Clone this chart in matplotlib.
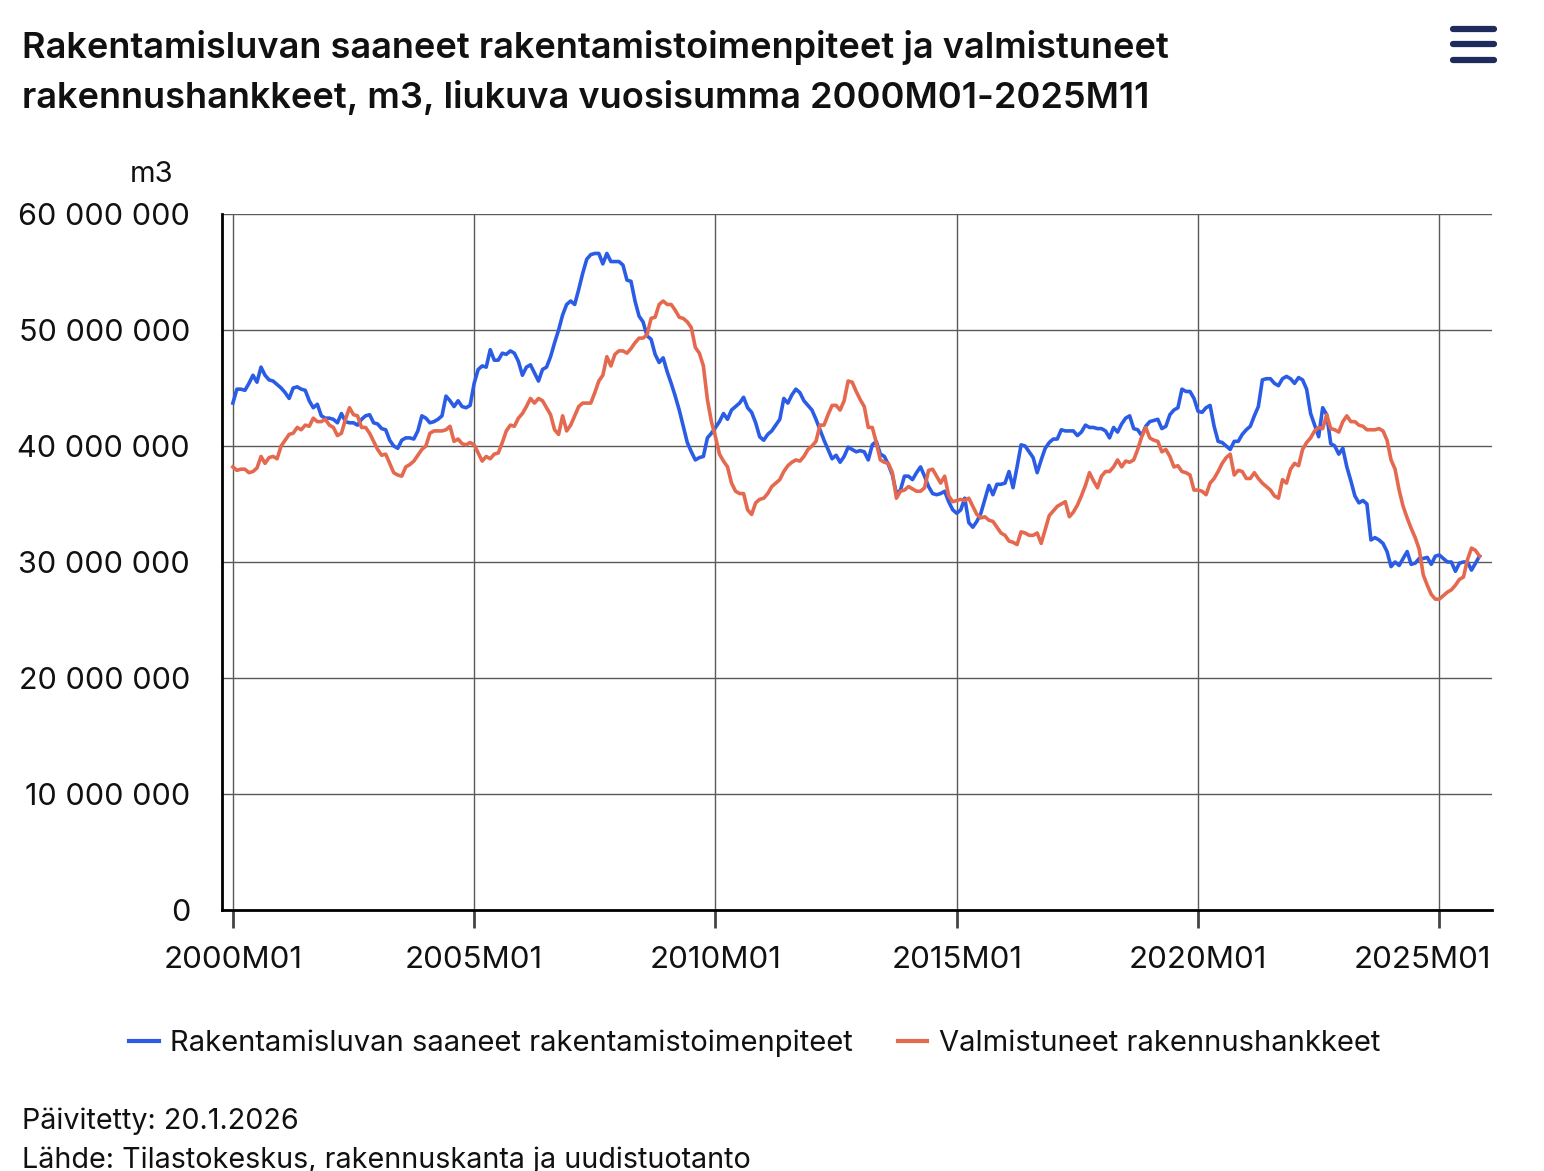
import numpy as np
import pandas as pd
import matplotlib
matplotlib.use("Agg")
import matplotlib.pyplot as plt
import matplotlib.transforms as mtransforms
from matplotlib.lines import Line2D
from matplotlib.ticker import FuncFormatter

plt.rcParams['font.family'] = ['Inter', 'DejaVu Sans']

# rolling 12-month sums, million m3, 2000M01-2025M11
luvat = [
    43.7, 44.9, 44.9, 44.8, 45.4, 46.1, 45.5, 46.8, 46.1, 45.7, 45.6, 45.3,  # 2000
    45.0, 44.6, 44.1, 45.0, 45.1, 44.9, 44.8, 43.9, 43.3, 43.6, 42.6, 42.4,  # 2001
    42.4, 42.3, 42.0, 42.8, 42.1, 42.0, 42.0, 41.8, 42.3, 42.6, 42.7, 42.0,  # 2002
    41.9, 41.5, 41.4, 40.5, 40.0, 39.8, 40.5, 40.7, 40.7, 40.6, 41.3, 42.6,  # 2003
    42.4, 42.0, 42.1, 42.3, 42.6, 44.3, 43.9, 43.4, 43.9, 43.4, 43.3, 43.5,  # 2004
    45.4, 46.6, 46.9, 46.8, 48.3, 47.4, 47.4, 48.0, 47.9, 48.2, 48.0, 47.3,  # 2005
    46.1, 46.8, 47.0, 46.3, 45.6, 46.6, 46.8, 47.7, 48.9, 50.0, 51.3, 52.2,  # 2006
    52.5, 52.2, 53.5, 54.9, 56.1, 56.5, 56.6, 56.6, 55.7, 56.6, 55.9, 55.9,  # 2007
    55.9, 55.6, 54.3, 54.2, 52.5, 51.2, 50.7, 49.5, 49.2, 47.9, 47.2, 47.6,  # 2008
    46.4, 45.4, 44.3, 43.1, 41.7, 40.3, 39.5, 38.8, 39.0, 39.1, 40.7, 41.1,  # 2009
    41.6, 42.1, 42.8, 42.3, 43.1, 43.4, 43.7, 44.2, 43.3, 42.9, 42.0, 40.8,  # 2010
    40.5, 41.0, 41.3, 41.8, 42.3, 44.1, 43.7, 44.4, 44.9, 44.6, 43.9, 43.5,  # 2011
    43.1, 42.3, 41.4, 40.5, 39.7, 38.9, 39.2, 38.6, 39.1, 39.9, 39.7, 39.5,  # 2012
    39.6, 39.5, 38.8, 40.1, 40.4, 39.3, 39.1, 38.4, 37.5, 35.9, 36.2, 37.4,  # 2013
    37.4, 37.1, 37.7, 38.2, 37.4, 36.5, 35.9, 35.8, 35.9, 36.1, 35.2, 34.5,  # 2014
    34.2, 34.5, 35.5, 33.4, 33.0, 33.5, 34.2, 35.4, 36.6, 35.8, 36.7, 36.7,  # 2015
    36.8, 37.8, 36.4, 38.2, 40.1, 40.0, 39.5, 39.0, 37.7, 38.8, 39.8, 40.3,  # 2016
    40.6, 40.6, 41.4, 41.3, 41.3, 41.3, 40.9, 41.2, 41.8, 41.6, 41.6, 41.5,  # 2017
    41.5, 41.3, 40.7, 41.6, 41.2, 41.9, 42.4, 42.6, 41.5, 41.4, 40.9, 41.7,  # 2018
    42.1, 42.2, 42.3, 41.5, 41.7, 42.7, 43.1, 43.3, 44.9, 44.7, 44.7, 44.1,  # 2019
    43.0, 42.9, 43.3, 43.5, 41.7, 40.4, 40.3, 40.0, 39.7, 40.4, 40.4, 41.0,  # 2020
    41.4, 41.7, 42.6, 43.4, 45.7, 45.8, 45.8, 45.4, 45.2, 45.8, 46.0, 45.8,  # 2021
    45.4, 45.9, 45.7, 44.9, 42.8, 41.8, 40.8, 43.3, 42.7, 40.2, 40.0, 39.3,  # 2022
    39.8, 38.2, 37.0, 35.7, 35.1, 35.3, 35.0, 31.9, 32.1, 31.9, 31.6, 30.9,  # 2023
    29.6, 30.0, 29.7, 30.3, 30.9, 29.8, 29.9, 30.3, 30.3, 30.4, 29.8, 30.5,  # 2024
    30.6, 30.3, 30.0, 30.0, 29.2, 29.9, 30.0, 30.0, 29.3, 29.9, 30.5,        # 2025
]

valmistuneet = [
    38.2, 37.9, 38.0, 38.0, 37.7, 37.8, 38.1, 39.1, 38.5, 39.0, 39.1, 38.9,  # 2000
    40.0, 40.5, 41.0, 41.1, 41.6, 41.4, 41.8, 41.7, 42.4, 42.1, 42.1, 42.3,  # 2001
    41.8, 41.6, 40.9, 41.1, 42.3, 43.3, 42.7, 42.6, 41.6, 41.6, 41.1, 40.4,  # 2002
    39.7, 39.2, 39.3, 38.5, 37.7, 37.5, 37.4, 38.2, 38.4, 38.7, 39.2, 39.7,  # 2003
    40.0, 41.1, 41.3, 41.3, 41.3, 41.4, 41.7, 40.4, 40.6, 40.2, 40.1, 40.3,  # 2004
    40.1, 39.4, 38.7, 39.1, 38.9, 39.3, 39.4, 40.3, 41.3, 41.8, 41.7, 42.4,  # 2005
    42.8, 43.4, 44.1, 43.7, 44.1, 43.9, 43.3, 42.7, 41.4, 41.0, 42.6, 41.3,  # 2006
    41.8, 42.6, 43.4, 43.7, 43.7, 43.7, 44.6, 45.6, 46.1, 47.7, 46.9, 47.9,  # 2007
    48.2, 48.2, 48.0, 48.4, 48.9, 49.3, 49.3, 49.6, 51.0, 51.1, 52.2, 52.5,  # 2008
    52.2, 52.2, 51.7, 51.1, 51.0, 50.7, 50.2, 48.5, 48.0, 46.9, 44.0, 42.1,  # 2009
    40.8, 39.3, 38.7, 38.2, 36.8, 36.1, 35.9, 35.9, 34.5, 34.1, 35.1, 35.4,  # 2010
    35.5, 35.9, 36.5, 36.8, 37.1, 37.8, 38.3, 38.6, 38.8, 38.7, 39.1, 39.7,  # 2011
    40.0, 40.4, 41.8, 41.8, 42.7, 43.5, 43.5, 43.1, 43.9, 45.6, 45.5, 44.7,  # 2012
    44.0, 43.4, 41.6, 41.6, 40.3, 38.8, 38.6, 38.5, 37.7, 35.5, 36.1, 36.2,  # 2013
    36.5, 36.3, 36.1, 36.1, 36.4, 37.9, 38.0, 37.4, 36.8, 37.4, 35.7, 35.2,  # 2014
    35.3, 35.4, 35.3, 35.5, 34.8, 34.1, 33.8, 33.9, 33.6, 33.5, 33.0, 32.5,  # 2015
    32.3, 31.8, 31.7, 31.5, 32.6, 32.5, 32.3, 32.3, 32.5, 31.6, 32.8, 34.0,  # 2016
    34.4, 34.8, 35.0, 35.2, 33.9, 34.3, 34.9, 35.7, 36.6, 37.7, 37.0, 36.4,  # 2017
    37.4, 37.8, 37.8, 38.2, 38.8, 38.2, 38.7, 38.6, 38.8, 39.7, 40.8, 41.6,  # 2018
    40.7, 40.5, 40.4, 39.5, 39.7, 39.1, 38.2, 38.3, 37.8, 37.7, 37.5, 36.2,  # 2019
    36.2, 36.1, 35.8, 36.8, 37.2, 37.8, 38.5, 39.0, 39.3, 37.5, 37.9, 37.8,  # 2020
    37.2, 37.2, 37.7, 37.2, 36.8, 36.5, 36.2, 35.7, 35.5, 37.1, 36.8, 38.0,  # 2021
    38.5, 38.3, 39.7, 40.3, 40.7, 41.3, 41.6, 41.5, 42.7, 41.5, 41.4, 41.2,  # 2022
    42.1, 42.6, 42.1, 42.1, 41.8, 41.7, 41.4, 41.4, 41.4, 41.5, 41.3, 40.5,  # 2023
    38.8, 38.0, 36.2, 34.8, 33.8, 32.9, 32.1, 31.1, 28.9, 28.0, 27.2, 26.8,  # 2024
    26.8, 27.1, 27.4, 27.6, 28.0, 28.5, 28.7, 30.2, 31.2, 31.0, 30.5,        # 2025
]

kuukaudet = pd.period_range('2000-01', '2025-11', freq='M')
labels = [f"{p.year}M{p.month:02d}" for p in kuukaudet]
series_names = ['Rakentamisluvan saaneet rakentamistoimenpiteet',
                'Valmistuneet rakennushankkeet']
colors = ['#2b5ce6', '#e4694f']

x = np.arange(len(kuukaudet))
fig = plt.figure(figsize=(15.44, 11.71), dpi=100)
ax = fig.add_axes([222 / 1544, 1 - 910 / 1171, 1270 / 1544, 696 / 1171])

ax.plot(x, np.array(luvat) * 1e6, color=colors[0], lw=2.6, label=series_names[0])
ax.plot(x, np.array(valmistuneet) * 1e6, color=colors[1], lw=2.6, label=series_names[1])

ax.set_ylim(0, 60e6)
ax.set_xlim(-2.7, len(x) - 1 + 3.1)
ax.set_yticks(np.arange(0, 60e6 + 1, 10e6))
ax.yaxis.set_major_formatter(FuncFormatter(lambda v, p: f"{int(v):,}".replace(',', ' ')))
tick_pos = x[::60]
ax.set_xticks(tick_pos)
ax.set_xticklabels([labels[i] for i in tick_pos])

ax.grid(True, color='#5a5a5a', lw=1.0)
ax.set_axisbelow(True)
for s in ['top', 'right']:
    ax.spines[s].set_visible(False)
for s in ['left', 'bottom']:
    ax.spines[s].set_color('black')
    ax.spines[s].set_linewidth(2)
ax.tick_params(axis='y', length=0, pad=23, labelsize=22, labelcolor='#111111')
ax.tick_params(axis='x', length=13, width=2, color='#444444', pad=13,
               labelsize=22.5, labelcolor='#111111')
# last label is pulled inside the plot edge
last = ax.get_xticklabels()[-1]
last.set_transform(last.get_transform() +
                   mtransforms.ScaledTranslation(-0.17, 0, fig.dpi_scale_trans))

fig.text(22 / 1544, 1 - 30 / 1171,
         "Rakentamisluvan saaneet rakentamistoimenpiteet ja valmistuneet\n"
         "rakennushankkeet, m3, liukuva vuosisumma 2000M01-2025M11",
         ha='left', va='top', fontsize=26, fontweight='semibold',
         color='#111111', linespacing=1.55)
fig.text(152 / 1544, 1 - 174 / 1171, "m3", ha='center', va='center',
         fontsize=21, color='#111111')

leg = fig.legend(loc='center', bbox_to_anchor=(755 / 1544, 1 - 1043 / 1171), ncol=2,
                 frameon=False, fontsize=21, handlelength=1.0, handletextpad=0.4,
                 columnspacing=1.55, labelcolor='#111111')
for h in leg.get_lines():
    h.set_linewidth(3)

fig.text(22 / 1544, 1 - 1121 / 1171, "Päivitetty: 20.1.2026", ha='left',
         va='center', fontsize=20.7, color='#111111')
fig.text(22 / 1544, 1 - 1160 / 1171,
         "Lähde: Tilastokeskus, rakennuskanta ja uudistuotanto", ha='left',
         va='center', fontsize=20.7, color='#111111')

# menu icon
for yy in [29, 44, 60]:
    fig.add_artist(Line2D([1453 / 1544, 1494 / 1544], [1 - yy / 1171] * 2,
                          transform=fig.transFigure, color='#1e2b5b', lw=4.5,
                          solid_capstyle='round'))

fig.savefig('out.png', dpi=100)
